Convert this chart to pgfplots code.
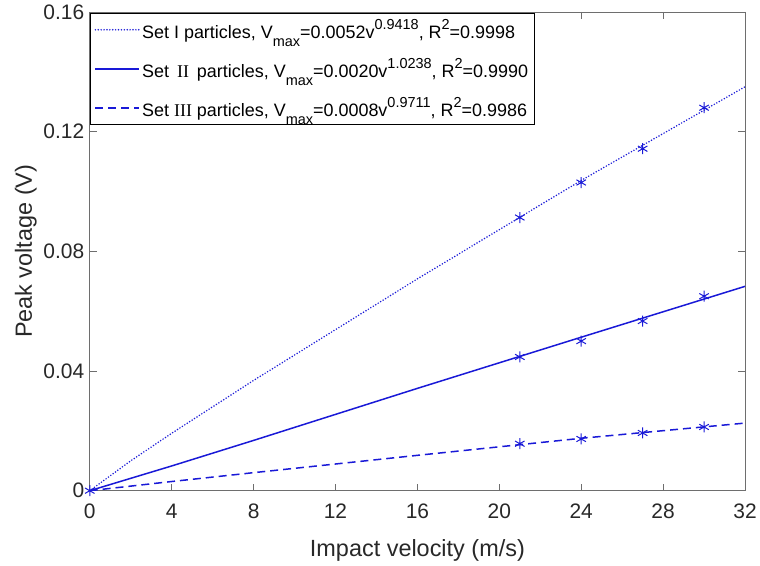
\documentclass[border=0pt]{standalone}
\usepackage{pgfplots}
\pgfplotsset{compat=1.18}
\usepackage{fontspec}
\setmainfont{Liberation Sans}
\newfontfamily\serifrm{Liberation Serif}
\definecolor{mblue}{RGB}{25,25,215}
\definecolor{txt}{RGB}{40,40,40}
\definecolor{axgray}{RGB}{110,110,110}
\newcommand\sub[1]{\raisebox{-0.8ex}{\fontsize{14.5}{14.5}\selectfont #1}}
\newcommand\sups[1]{\raisebox{1ex}{\fontsize{14.5}{14.5}\selectfont #1}}
\begin{document}
\begin{tikzpicture}
\begin{axis}[
  scale only axis, width=657pt, height=480pt,
  xmin=0, xmax=32, ymin=0, ymax=0.16,
  xtick={0,4,8,12,16,20,24,28,32},
  ytick={0,0.04,0.08,0.12,0.16},
  yticklabels={0,0.04,0.08,0.12,0.16},
  scaled y ticks=false,
  /pgf/number format/assume math mode=true,
  tick align=inside, xtick pos=both, ytick pos=both,
  major tick length=7pt,
  tick style={axgray, line width=0.9pt},
  axis line style={axgray, line width=0.9pt},
  tick label style={text=txt, font=\fontsize{21}{24}\selectfont},
  xticklabel style={yshift=-10pt},
  yticklabel style={xshift=-2pt},
  label style={text=txt, font=\fontsize{23.5}{26}\selectfont},
  xlabel={Impact velocity (m/s)}, ylabel={Peak voltage (V)},
  xlabel style={yshift=-14pt},
  legend style={at={(0,1)}, anchor=north west, xshift=0.5pt, yshift=-1pt,
    draw=black, line width=0.6pt, inner sep=4pt, row sep=14pt,
    font=\fontsize{18}{20}\selectfont},
  legend cell align=left,
  legend image code/.code={\draw[#1] (0pt,0pt) -- (44pt,0pt);},
]
\addplot[mblue, line width=1.7pt, line cap=round, dash pattern=on 0pt off 2.9pt] coordinates {
 (0,0) (2,0.00999) (4,0.01919) (8,0.03686) (16,0.0708) (24,0.1037) (32,0.1350)};
\addlegendentry{Set I particles, V\sub{max}=0.0052v\sups{0.9418}, R\sups{2}=0.9998}
\addplot[mblue, line width=1.5pt] coordinates {
 (0,0) (4,0.00827) (8,0.01681) (16,0.0342) (24,0.0513) (32,0.0683)};
\addlegendentry{Set {\serifrm\,II\,} particles, V\sub{max}=0.0020v\sups{1.0238}, R\sups{2}=0.9990}
\addplot[mblue, line width=1.5pt, dash pattern=on 8pt off 5pt] coordinates {
 (0,0) (4,0.00307) (8,0.00603) (16,0.01182) (24,0.01752) (32,0.0226)};
\addlegendentry{Set {\serifrm III} particles, V\sub{max}=0.0008v\sups{0.9711}, R\sups{2}=0.9986}
\addplot[only marks, mark=asterisk, mark size=5.5pt, mblue, line width=1pt, forget plot] coordinates {
 (0,0) (21,0.0913) (24,0.1030) (27,0.1143) (30,0.128)};
\addplot[only marks, mark=asterisk, mark size=5.5pt, mblue, line width=1pt, forget plot] coordinates {
 (21,0.0447) (24,0.0500) (27,0.0567) (30,0.0650)};
\addplot[only marks, mark=asterisk, mark size=5.5pt, mblue, line width=1pt, forget plot] coordinates {
 (21,0.0157) (24,0.0173) (27,0.0193) (30,0.0213)};
\end{axis}
\path (current axis.south west) ++(-90pt,-70pt);
\path (current axis.north east) ++(13pt,12pt);
\end{tikzpicture}
\end{document}
